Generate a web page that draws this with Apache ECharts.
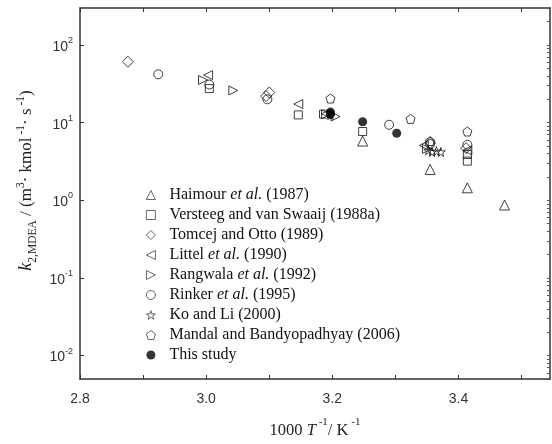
<!DOCTYPE html>
<html lang="en">
  <head>
    <meta charset="UTF-8" />
    <title>k2 MDEA</title>
    <style>
      html, body { margin: 0; padding: 0; background: #fff; }
      #main { width: 552px; height: 444px; }
    </style>
  </head>
  <body>
    <div id="main"></div>
    <script src="https://cdn.jsdelivr.net/npm/echarts@6/dist/echarts.min.js"></script>
    <script>
      // data: [1000/T, k2]
      const haimour = [[3.248, 5.8], [3.355, 2.5], [3.414, 1.45], [3.473, 0.87]];
      const versteeg = [[3.005, 27.5], [3.146, 12.6], [3.186, 12.9], [3.248, 7.7], [3.414, 3.9], [3.414, 3.2]];
      const tomcej = [[2.876, 61], [3.1, 24.5], [3.095, 22], [3.355, 5.5], [3.412, 4.7]];
      const littel = [[3.003, 41], [3.146, 17.4], [3.19, 13], [3.345, 5.1], [3.414, 4.4]];
      const rangwala = [[2.995, 35.5], [3.043, 26], [3.205, 12], [3.19, 12.8], [3.35, 4.6]];
      const rinker = [[2.924, 42], [3.005, 31], [3.097, 20], [3.29, 9.4], [3.414, 5.2], [3.355, 5.3]];
      const koLi = [[3.197, 12.5], [3.352, 4.4], [3.358, 4.2], [3.365, 4.3], [3.372, 4.2]];
      const mandal = [[3.197, 20.5], [3.324, 11.2], [3.355, 5.8], [3.414, 7.7]];
      const thisStudy = [[3.197, 13.7], [3.197, 12.8], [3.248, 10.3], [3.302, 7.3]];

      const xLabels = [2.8, 3.0, 3.2, 3.4];
      const xTicks = [2.8, 2.9, 3.0, 3.1, 3.2, 3.3, 3.4, 3.5];
      const yDecades = [0.01, 0.1, 1, 10, 100];
      const yMinorTicks = [];
      yDecades.concat([1000]).forEach((d) => {
        for (let m = 1; m < 10; m++) {
          const v = (d / 10) * m;
          if (v >= 0.005 && v <= 300) yMinorTicks.push(v);
        }
      });

      const serif = "Liberation Serif";
      const sans = "Liberation Sans";

      const sym = {
        up: "triangle",
        rect: "rect",
        diamond: "diamond",
        left: "path://M0,5L10,0L10,10Z",
        right: "path://M0,0L10,5L0,10Z",
        circle: "circle",
        star: "path://M5,0L6.2,3.6L10,3.6L7,5.9L8.1,9.5L5,7.3L1.9,9.5L3,5.9L0,3.6L3.8,3.6Z",
        penta: "path://M5,0L10,3.8L8.1,10L1.9,10L0,3.8Z",
      };

      function hollow(name, data, symbol, size) {
        return {
          name: name,
          type: "scatter",
          data: data,
          symbol: symbol,
          symbolSize: size || 9,
          itemStyle: { color: "rgba(255,255,255,0)", borderColor: "#111", borderWidth: 1 },
        };
      }

      const chart = echarts.init(document.getElementById("main"));

      chart.setOption({
        animation: false,
        grid: { left: 80, right: 2, top: 8, bottom: 57 },
        legend: {
          orient: "vertical",
          left: 141,
          top: 182,
          itemWidth: 9,
          itemHeight: 9,
          itemGap: 4,
          itemStyle: { borderWidth: 0.8 },
          formatter: (name) => name.replace("et al.", "{i|et al.}"),
          textStyle: {
            fontFamily: serif,
            fontSize: 16,
            color: "#111",
            padding: [0, 0, 0, 9],
            rich: { i: { fontFamily: serif, fontSize: 16, fontStyle: "italic", color: "#111" } },
          },
        },
        xAxis: [
          {
            type: "value",
            min: 2.8,
            max: 3.545,
            position: "bottom",
            splitLine: { show: false },
            axisLine: { lineStyle: { color: "#333", width: 1.5 } },
            axisTick: { inside: true, length: 4, customValues: xTicks, lineStyle: { color: "#333" } },
            axisLabel: {
              customValues: xLabels,
              formatter: (v) => v.toFixed(1),
              fontFamily: sans,
              fontSize: 14,
              color: "#333",
              margin: 13,
            },
            name: "{t|1000 }{i|T}{s| -1}{t|/ K}{s| -1}",
            nameLocation: "middle",
            nameGap: 38,
            nameTextStyle: {
              rich: {
                t: { fontFamily: serif, fontSize: 16.5, color: "#222", lineHeight: 22, verticalAlign: "bottom" },
                i: { fontFamily: serif, fontSize: 16.5, fontStyle: "italic", color: "#222", lineHeight: 22, verticalAlign: "bottom" },
                s: { fontFamily: serif, fontSize: 11, color: "#222", lineHeight: 12, verticalAlign: "top" },
              },
            },
          },
          {
            type: "value",
            min: 2.8,
            max: 3.545,
            position: "top",
            splitLine: { show: false },
            axisLine: { lineStyle: { color: "#333", width: 1.5 } },
            axisTick: { inside: true, length: 4, customValues: xTicks, lineStyle: { color: "#333" } },
            axisLabel: { show: false },
          },
        ],
        yAxis: [
          {
            type: "log",
            logBase: 10,
            min: 0.005,
            max: 300,
            position: "left",
            splitLine: { show: false },
            axisLine: { show: true, lineStyle: { color: "#333", width: 1.5 } },
            axisTick: { inside: true, length: 4, customValues: yDecades, lineStyle: { color: "#333" } },
            axisLabel: {
              customValues: yDecades,
              formatter: (v) => "{b|10}{s|" + Math.round(Math.log10(v)) + "}",
              margin: 7,
              rich: {
                b: { fontFamily: sans, fontSize: 14, color: "#333", lineHeight: 18, verticalAlign: "bottom" },
                s: { fontFamily: sans, fontSize: 9, color: "#333", lineHeight: 12, verticalAlign: "top" },
              },
            },
            name: "{k|k}{sub|2,MDEA}{t| / (m}{sup|3}{t|· kmol}{sup| -1}{t|· s}{sup| -1}{t|)}",
            nameLocation: "middle",
            nameGap: 35,
            nameTextStyle: {
              padding: [0, 0, 0, 26],
              rich: {
                k: { fontFamily: serif, fontSize: 18, fontStyle: "italic", color: "#222", lineHeight: 24, verticalAlign: "middle" },
                sub: { fontFamily: serif, fontSize: 11.5, color: "#222", lineHeight: 24, verticalAlign: "bottom" },
                t: { fontFamily: serif, fontSize: 17, color: "#222", lineHeight: 24, verticalAlign: "middle" },
                sup: { fontFamily: serif, fontSize: 11.5, color: "#222", lineHeight: 13, verticalAlign: "top" },
              },
            },
          },
          {
            type: "log",
            logBase: 10,
            min: 0.005,
            max: 300,
            position: "right",
            splitLine: { show: false },
            axisLine: { show: true, lineStyle: { color: "#333", width: 1.5 } },
            axisTick: { inside: true, length: 3, customValues: yMinorTicks, lineStyle: { color: "#555" } },
            axisLabel: { show: false },
          },
        ],
        series: [
          hollow("Haimour et al. (1987)", haimour, sym.up, 10),
          hollow("Versteeg and van Swaaij (1988a)", versteeg, sym.rect, 8),
          hollow("Tomcej and Otto (1989)", tomcej, sym.diamond, 11),
          hollow("Littel et al. (1990)", littel, sym.left, 9),
          hollow("Rangwala et al. (1992)", rangwala, sym.right, 9),
          hollow("Rinker et al. (1995)", rinker, sym.circle, 9),
          hollow("Ko and Li (2000)", koLi, sym.star, 9),
          hollow("Mandal and Bandyopadhyay (2006)", mandal, sym.penta, 9),
          {
            name: "This study",
            type: "scatter",
            data: thisStudy,
            symbol: "circle",
            symbolSize: 9,
            itemStyle: { color: "#000" },
          },
        ],
      });
    </script>
  </body>
</html>
